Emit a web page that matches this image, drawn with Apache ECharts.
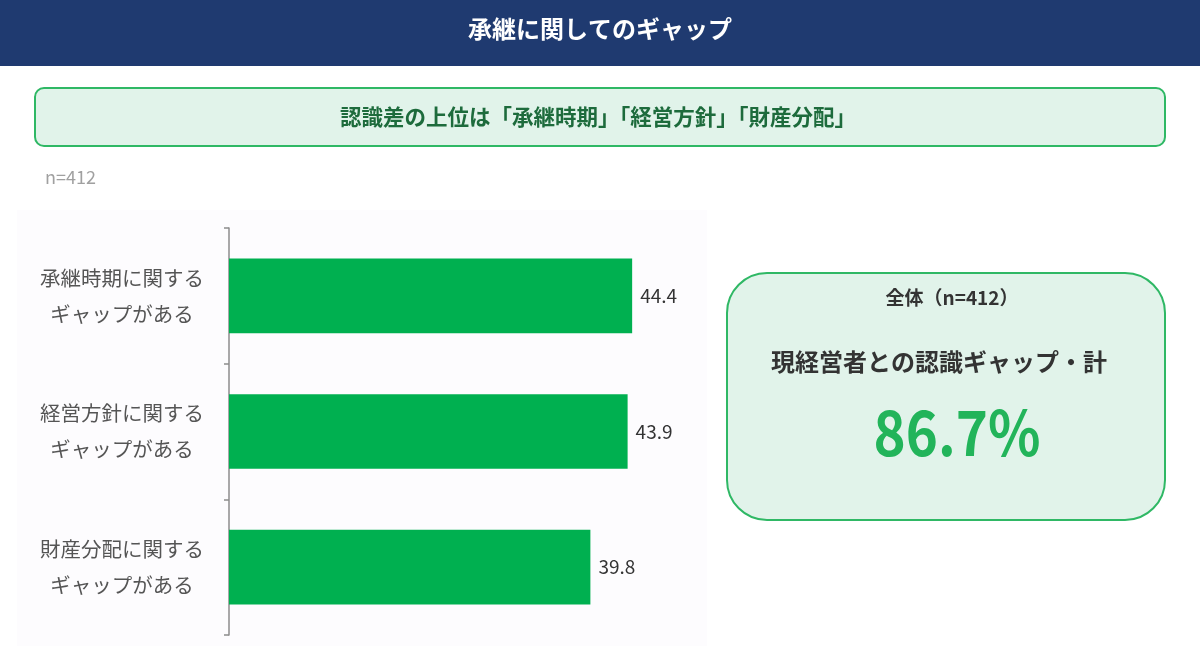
<!DOCTYPE html>
<html><head><meta charset="utf-8">
<script src="https://cdn.jsdelivr.net/npm/echarts@6/dist/echarts.min.js"></script>
<style>html,body{margin:0;padding:0;background:#fff}#c{width:1200px;height:650px}</style>
</head><body><div id="c"></div>
<script>
var titleText = '承継に関してのギャップ';
var headline = '認識差の上位は「承継時期」「経営方針」「財産分配」';
var sampleNote = 'n=412';
var categories = ['承継時期に関する\nギャップがある', '経営方針に関する\nギャップがある', '財産分配に関する\nギャップがある'];
var values = [44.4, 43.9, 39.8];
var boxLabel = '全体（n=412）';
var boxCaption = '現経営者との認識ギャップ・計';
var boxValue = '86.7%';

var FONT = '"Noto Sans CJK JP", "Noto Sans", sans-serif';
var chart = echarts.init(document.getElementById('c'), null, {renderer: 'canvas'});
chart.setOption({
  backgroundColor: '#ffffff',
  animation: false,
  textStyle: {fontFamily: FONT},
  graphic: [
    {type: 'rect', z: -10, shape: {x: 17, y: 210, width: 690, height: 436}, style: {fill: '#fdfcfe'}},
    {type: 'rect', shape: {x: 0, y: 0, width: 1200, height: 66}, style: {fill: '#1f3a70'}},
    {type: 'text', left: 'center', top: 17, style: {text: titleText, fill: '#ffffff', font: 'bold 24px ' + FONT}},
    {type: 'rect', shape: {x: 35, y: 88, width: 1130, height: 58, r: 9}, style: {fill: '#e1f3ea', stroke: '#2fb865', lineWidth: 2}},
    {type: 'text', x: 598, y: 117, style: {text: headline, fill: '#1d6b3c', font: 'bold 21.5px ' + FONT, textAlign: 'center', textVerticalAlign: 'middle'}},
    {type: 'text', left: 45, top: 168, style: {text: sampleNote, fill: '#a0a0a0', font: '18px ' + FONT}},
    {type: 'rect', shape: {x: 727, y: 273, width: 438, height: 247, r: 40}, style: {fill: '#e1f3ea', stroke: '#2fb865', lineWidth: 2}},
    {type: 'text', x: 952, y: 298, style: {text: boxLabel, fill: '#333333', font: 'bold 19px ' + FONT, textAlign: 'center', textVerticalAlign: 'middle'}},
    {type: 'text', x: 939, y: 362, style: {text: boxCaption, fill: '#333333', font: 'bold 24px ' + FONT, textAlign: 'center', textVerticalAlign: 'middle'}},
    {type: 'text', x: 957, y: 432, scaleX: 0.88, style: {text: boxValue, fill: '#22b45a', font: 'bold 62px ' + FONT, textAlign: 'center', textVerticalAlign: 'middle'}}
  ],
  grid: {left: 229, top: 228, width: 454, height: 407, containLabel: false},
  xAxis: {
    type: 'value', min: 0, max: 50, show: false
  },
  yAxis: {
    type: 'category', data: categories, inverse: true,
    axisLine: {show: true, lineStyle: {color: '#8c8c8c', width: 1.5}},
    axisTick: {show: true, length: 5, lineStyle: {color: '#8c8c8c', width: 1.5}},
    axisLabel: {margin: 107, align: 'center', fontSize: 20.5, lineHeight: 36, color: '#555555', fontFamily: FONT},
    splitLine: {show: false}
  },
  series: [{
    type: 'bar', data: values, barWidth: '55%',
    itemStyle: {color: '#00b050'},
    label: {show: true, position: 'right', distance: 8, fontSize: 19, color: '#333333', fontFamily: FONT,
      formatter: function(p){ return p.value.toFixed(1); }}
  }]
});
</script></body></html>
